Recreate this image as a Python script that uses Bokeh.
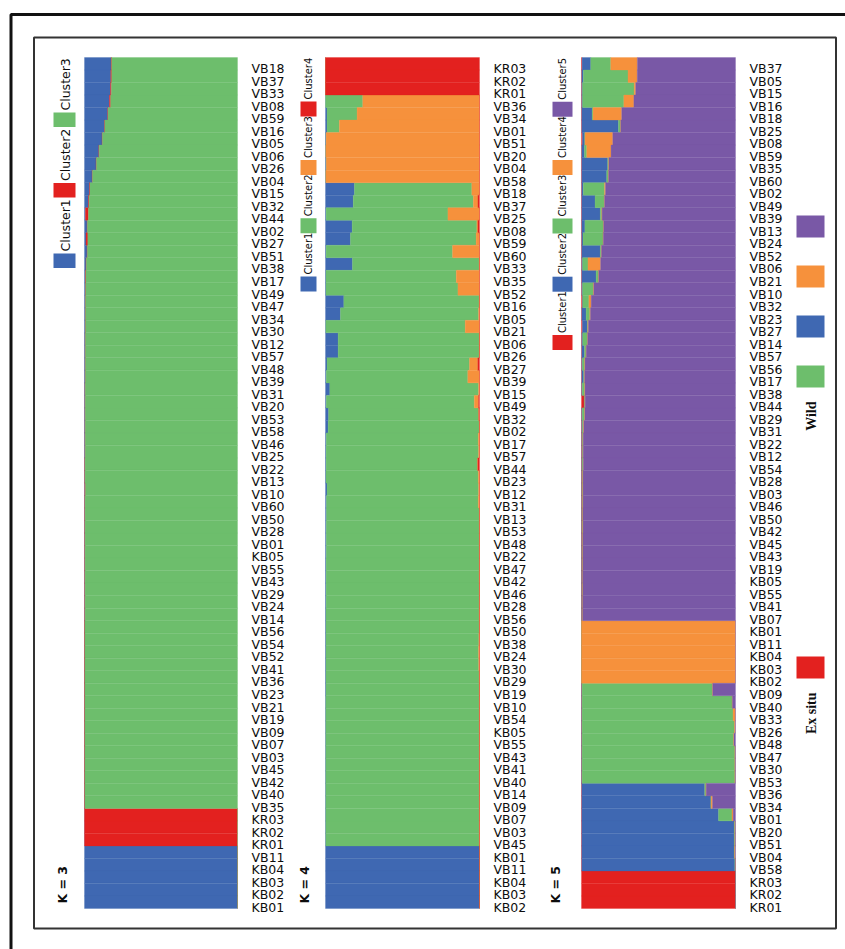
import math
from bokeh.plotting import figure
from bokeh.models import Range1d, BoxAnnotation, Label, ColumnDataSource
from bokeh.core.properties import value
from bokeh.embed import file_html
from bokeh.resources import INLINE

# ---------------- data ----------------
labels_k3 = ["VB18", "VB37", "VB33", "VB08", "VB59", "VB16", "VB05", "VB06", "VB26", "VB04",
             "VB15", "VB32", "VB44", "VB02", "VB27", "VB51", "VB38", "VB17", "VB49", "VB47",
             "VB34", "VB30", "VB12", "VB57", "VB48", "VB39", "VB31", "VB20", "VB53", "VB58",
             "VB46", "VB25", "VB22", "VB13", "VB10", "VB60", "VB50", "VB28", "VB01", "KB05",
             "VB55", "VB43", "VB29", "VB24", "VB14", "VB56", "VB54", "VB52", "VB41", "VB36",
             "VB23", "VB21", "VB19", "VB09", "VB07", "VB03", "VB45", "VB42", "VB40", "VB35",
             "KR03", "KR02", "KR01", "VB11", "KB04", "KB03", "KB02", "KB01"]
k3_cluster1 = [0.174, 0.172, 0.170, 0.163, 0.152, 0.131, 0.115, 0.094, 0.076, 0.050,
               0.033, 0.026, 0.006, 0.017, 0.010, 0.017, 0.010, 0.006, 0.006, 0.005,
               0.005, 0.005, 0.004, 0.004, 0.004, 0.004, 0.003, 0.003, 0.003, 0.003,
               0.003, 0.003, 0.002, 0.002, 0.002, 0.002, 0.002, 0.002, 0.002, 0.002,
               0.002, 0.002, 0.002, 0.002, 0.002, 0.001, 0.001, 0.001, 0.001, 0.001,
               0.001, 0.001, 0.001, 0.001, 0.001, 0.001, 0.001, 0.001, 0.001, 0.001,
               0, 0, 0, 1, 1, 1, 1, 1]
k3_cluster2 = [0.004, 0.006, 0.006, 0.008, 0.002, 0.002, 0.002, 0.002, 0.002, 0.002,
               0.003, 0.004, 0.020, 0.002, 0.012, 0.002, 0.002, 0.003, 0.002, 0.002,
               0.002, 0.002, 0.002, 0.002, 0.002, 0.002, 0.002, 0.002, 0.002, 0.002,
               0.002, 0.002, 0.002, 0.002, 0.004, 0.002, 0.002, 0.002, 0.002, 0.002,
               0.002, 0.002, 0.002, 0.002, 0.002, 0.002, 0.002, 0.002, 0.002, 0.002,
               0.002, 0.002, 0.002, 0.002, 0.002, 0.002, 0.002, 0.002, 0.002, 0.002,
               1, 1, 1, 0, 0, 0, 0, 0]
k3_cluster3 = [0.822, 0.822, 0.824, 0.829, 0.846, 0.867, 0.883, 0.904, 0.922, 0.948,
               0.964, 0.970, 0.974, 0.981, 0.978, 0.981, 0.988, 0.991, 0.992, 0.993,
               0.993, 0.993, 0.994, 0.994, 0.994, 0.994, 0.995, 0.995, 0.995, 0.995,
               0.995, 0.995, 0.996, 0.996, 0.994, 0.996, 0.996, 0.996, 0.996, 0.996,
               0.996, 0.996, 0.996, 0.996, 0.996, 0.997, 0.997, 0.997, 0.997, 0.997,
               0.997, 0.997, 0.997, 0.997, 0.997, 0.997, 0.997, 0.997, 0.997, 0.997,
               0, 0, 0, 0, 0, 0, 0, 0]

labels_k4 = ["KR03", "KR02", "KR01", "VB36", "VB34", "VB01", "VB51", "VB20", "VB04", "VB58",
             "VB18", "VB37", "VB25", "VB08", "VB59", "VB60", "VB33", "VB35", "VB52", "VB16",
             "VB05", "VB21", "VB06", "VB26", "VB27", "VB39", "VB15", "VB49", "VB32", "VB02",
             "VB17", "VB57", "VB44", "VB23", "VB12", "VB31", "VB13", "VB53", "VB48", "VB22",
             "VB47", "VB42", "VB46", "VB28", "VB56", "VB50", "VB38", "VB24", "VB30", "VB29",
             "VB19", "VB10", "VB54", "KB05", "VB55", "VB43", "VB41", "VB40", "VB14", "VB09",
             "VB07", "VB03", "VB45", "KB01", "VB11", "KB04", "KB03", "KB02"]
k4_cluster1 = [0, 0, 0, 0, 0.010, 0.010, 0.004, 0.002, 0.005, 0.002,
               0.188, 0.180, 0.004, 0.173, 0.162, 0.004, 0.175, 0.003, 0.003, 0.119,
               0.097, 0.002, 0.082, 0.082, 0.010, 0.005, 0.028, 0.005, 0.020, 0.017,
               0.005, 0.004, 0.004, 0.003, 0.010, 0.006, 0.006, 0.005, 0.005, 0.005,
               0.004, 0.004, 0.004, 0.004, 0.003, 0.003, 0.003, 0.003, 0.003, 0.003,
               0.003, 0.002, 0.002, 0.002, 0.002, 0.002, 0.002, 0.002, 0.002, 0.002,
               0.002, 0.002, 0.002, 1, 1, 1, 1, 1]
k4_cluster2 = [0, 0, 0, 0.242, 0.195, 0.080, 0, 0, 0, 0,
               0.762, 0.780, 0.791, 0.810, 0.816, 0.821, 0.822, 0.846, 0.857, 0.878,
               0.897, 0.905, 0.916, 0.916, 0.925, 0.919, 0.966, 0.961, 0.974, 0.981,
               0.987, 0.990, 0.983, 0.989, 0.984, 0.986, 0.992, 0.993, 0.993, 0.993,
               0.994, 0.993, 0.994, 0.994, 0.994, 0.995, 0.993, 0.991, 0.992, 0.994,
               0.995, 0.996, 0.996, 0.996, 0.996, 0.996, 0.996, 0.996, 0.996, 0.996,
               0.996, 0.996, 0.996, 0, 0, 0, 0, 0]
k4_cluster3 = [0, 0, 0, 0.758, 0.795, 0.910, 0.996, 0.998, 0.995, 0.998,
               0.050, 0.030, 0.205, 0.007, 0.022, 0.175, 0.003, 0.151, 0.140, 0.003,
               0.006, 0.093, 0.002, 0.002, 0.054, 0.076, 0.006, 0.028, 0.002, 0.002,
               0.008, 0.006, 0.002, 0.008, 0.006, 0.008, 0.002, 0.002, 0.002, 0.002,
               0.002, 0.003, 0.002, 0.002, 0.003, 0.002, 0.004, 0.006, 0.005, 0.003,
               0.002, 0.002, 0.002, 0.002, 0.002, 0.002, 0.002, 0.002, 0.002, 0.002,
               0.002, 0.002, 0.002, 0, 0, 0, 0, 0]
k4_cluster4 = [1, 1, 1, 0, 0, 0, 0, 0, 0, 0,
               0, 0.010, 0, 0.010, 0, 0, 0, 0, 0, 0,
               0, 0, 0, 0, 0.011, 0, 0, 0.006, 0.004, 0,
               0, 0, 0.011, 0, 0, 0, 0, 0, 0, 0,
               0, 0, 0, 0, 0, 0, 0, 0, 0, 0,
               0, 0, 0, 0, 0, 0, 0, 0, 0, 0,
               0, 0, 0, 0, 0, 0, 0, 0]

labels_k5 = ["VB37", "VB05", "VB15", "VB16", "VB18", "VB25", "VB08", "VB59", "VB35", "VB60",
             "VB02", "VB49", "VB39", "VB13", "VB24", "VB52", "VB06", "VB21", "VB10", "VB32",
             "VB23", "VB27", "VB14", "VB57", "VB56", "VB17", "VB38", "VB44", "VB29", "VB31",
             "VB22", "VB12", "VB54", "VB28", "VB03", "VB46", "VB50", "VB42", "VB45", "VB43",
             "VB19", "KB05", "VB55", "VB41", "VB07", "KB01", "VB11", "KB04", "KB03", "KB02",
             "VB09", "VB40", "VB33", "VB26", "VB48", "VB47", "VB30", "VB53", "VB36", "VB34",
             "VB01", "VB20", "VB51", "VB04", "VB58", "KR03", "KR02", "KR01"]
k5_cluster1 = [0.004, 0.002, 0.002, 0.002, 0.002, 0.002, 0.006, 0.002, 0.002, 0.002,
               0.002, 0.002, 0.002, 0.002, 0.002, 0.002, 0.002, 0.002, 0.002, 0.006,
               0.002, 0.006, 0.002, 0.002, 0.002, 0.002, 0.002, 0.017, 0.002, 0.002,
               0.002, 0.002, 0.002, 0.002, 0.002, 0.002, 0.002, 0.002, 0.002, 0.002,
               0.002, 0.002, 0.002, 0.002, 0.002, 0, 0, 0, 0, 0,
               0.002, 0.002, 0.002, 0.002, 0.002, 0.002, 0.002, 0.002, 0.002, 0.002,
               0.002, 0.002, 0.002, 0.002, 0.002, 1, 1, 1]
k5_cluster2 = [0.056, 0.010, 0.005, 0.005, 0.067, 0.238, 0.015, 0.017, 0.168, 0.162,
               0.010, 0.086, 0.120, 0.020, 0.008, 0.120, 0.005, 0.093, 0.005, 0.002,
               0.028, 0.032, 0.006, 0.017, 0.004, 0.012, 0.003, 0.002, 0.003, 0.004,
               0.003, 0.004, 0.003, 0.003, 0.002, 0.003, 0.002, 0.002, 0.003, 0.002,
               0.002, 0.002, 0.002, 0.002, 0.002, 0, 0, 0, 0, 0,
               0.002, 0.002, 0.002, 0.002, 0.002, 0.002, 0.002, 0.002, 0.798, 0.838,
               0.888, 0.990, 0.990, 0.990, 0.994, 0, 0, 0]
k5_cluster3 = [0.130, 0.290, 0.335, 0.268, 0.006, 0.013, 0.002, 0.015, 0.006, 0.010,
               0.138, 0.060, 0.010, 0.120, 0.130, 0.006, 0.035, 0.015, 0.070, 0.040,
               0.024, 0.003, 0.030, 0.010, 0.015, 0.005, 0.016, 0.003, 0.015, 0.006,
               0.004, 0.003, 0.005, 0.003, 0.004, 0.003, 0.003, 0.004, 0.002, 0.003,
               0.003, 0.002, 0.003, 0.002, 0.002, 0, 0, 0, 0, 0,
               0.846, 0.974, 0.980, 0.989, 0.984, 0.992, 0.992, 0.992, 0.008, 0.002,
               0.087, 0.004, 0.004, 0.002, 0.002, 0, 0, 0]
k5_cluster4 = [0.173, 0.060, 0.010, 0.065, 0.186, 0.002, 0.180, 0.158, 0.002, 0.002,
               0.006, 0.002, 0.002, 0.002, 0.002, 0.002, 0.082, 0.002, 0.003, 0.015,
               0.004, 0.004, 0.002, 0.002, 0.002, 0.002, 0.002, 0.002, 0.002, 0.003,
               0.002, 0.002, 0.002, 0.002, 0.002, 0.002, 0.002, 0.002, 0.002, 0.002,
               0.002, 0.002, 0.002, 0.002, 0.002, 1, 1, 1, 1, 1,
               0.002, 0.002, 0.015, 0.005, 0.002, 0.002, 0.002, 0.002, 0.002, 0.009,
               0.008, 0.002, 0.002, 0.004, 0.002, 0, 0, 0]
k5_cluster5 = [0.637, 0.638, 0.648, 0.660, 0.739, 0.745, 0.797, 0.808, 0.822, 0.824,
               0.844, 0.850, 0.866, 0.856, 0.858, 0.870, 0.876, 0.888, 0.920, 0.937,
               0.942, 0.955, 0.960, 0.969, 0.977, 0.979, 0.977, 0.976, 0.978, 0.985,
               0.989, 0.989, 0.988, 0.990, 0.990, 0.990, 0.991, 0.990, 0.991, 0.991,
               0.991, 0.992, 0.991, 0.992, 0.992, 0, 0, 0, 0, 0,
               0.148, 0.020, 0.001, 0.002, 0.010, 0.002, 0.002, 0.002, 0.190, 0.149,
               0.015, 0.002, 0.002, 0.002, 0.000, 0, 0, 0]

legend_k3 = ["Cluster1", "Cluster2", "Cluster3"]
legend_k4 = ["Cluster1", "Cluster2", "Cluster3", "Cluster4"]
legend_k5 = ["Cluster1", "Cluster2", "Cluster3", "Cluster4", "Cluster5"]
group_legend = ["Wild", "Ex situ"]

# ---------------- styles ----------------
BLUE, RED, GREEN, ORANGE, PURPLE = "#3f68b2", "#e3211f", "#6dbe6c", "#f6913c", "#7958a6"
TXT = "#0d0d0d"

W, H = 845, 949
PAGE = 0


def P(v):
    return v - PAGE


N = len(labels_k3)
ROW_TOP, ROW_BOT = 57, 908
RH = (ROW_BOT - ROW_TOP) / N


def panel_range(L, R):
    l, r = P(L), P(R)
    w = r - l
    return Range1d(-l / w, (W - l) / w)


p = figure(width=W, height=H, x_range=Range1d(0, W), y_range=Range1d(H, 0),
           output_backend="svg", toolbar_location=None, min_border=0,
           x_axis_location=None, y_axis_location=None,
           outline_line_color=None, background_fill_color="white",
           border_fill_color="white")
p.grid.visible = False
p.extra_y_ranges = {"rows": Range1d((H - P(ROW_TOP)) / RH, -P(ROW_TOP) / RH)}
p.extra_x_ranges = {"k3": panel_range(84, 237),
                    "k4": panel_range(325, 479),
                    "k5": panel_range(581, 735)}

# frames
p.add_layout(BoxAnnotation(left=P(10.5), top=P(14), right=W + 30, bottom=H + 30,
                           fill_alpha=0, line_color="#111111", line_alpha=1, line_width=3))
p.add_layout(BoxAnnotation(left=P(33.5), top=P(37), right=P(835.5), bottom=P(928),
                           fill_alpha=0, line_color="#333333", line_alpha=1, line_width=2))

panels = [
    ("k3", labels_k3, [k3_cluster1, k3_cluster2, k3_cluster3], [BLUE, RED, GREEN],
     legend_k3, dict(sx0=53, sx1=75, first_top=253, sh=14.5, pitch=70.5, tx=64.5, fs="12.5px"),
     "K = 3", (62, 903)),
    ("k4", labels_k4, [k4_cluster1, k4_cluster2, k4_cluster3, k4_cluster4],
     [BLUE, GREEN, ORANGE, RED],
     legend_k4, dict(sx0=300, sx1=316, first_top=276, sh=15, pitch=58.3, tx=307.5, fs="10px"),
     "K = 4", (304, 903)),
    ("k5", labels_k5, [k5_cluster1, k5_cluster2, k5_cluster3, k5_cluster4, k5_cluster5],
     [RED, BLUE, GREEN, ORANGE, PURPLE],
     legend_k5, dict(sx0=552, sx1=572, first_top=334.5, sh=15, pitch=58.3, tx=562, fs="10px"),
     "K = 5", (555, 903)),
]

for key, names, series, cols, leg, lg, ktext, kpos in panels:
    data = {"y": [i + 0.5 for i in range(len(names))],
            "ly": [i + 0.9 for i in range(len(names))],
            "name": names}
    keys = []
    for j, s in enumerate(series):
        data[f"c{j}"] = s
        keys.append(f"c{j}")
    src = ColumnDataSource(data)
    p.hbar_stack(keys, y="y", height=1.0, color=cols, source=src,
                 x_range_name=key, y_range_name="rows", line_width=0.3)
    p.text(x=1.0, y="ly", text="name", source=src, x_range_name=key, y_range_name="rows",
           x_offset=14, text_font=value("DejaVu Sans"), text_font_size=value("12.5px"),
           text_baseline="middle", text_align="left", text_color=TXT)
    # rotated legend (items stacked upward)
    for j, (name, c) in enumerate(zip(leg, cols)):
        top = lg["first_top"] - j * lg["pitch"]
        p.add_layout(BoxAnnotation(left=P(lg["sx0"]), right=P(lg["sx1"]),
                                   top=P(top), bottom=P(top + lg["sh"]),
                                   fill_color=c, fill_alpha=1, line_color=None))
        p.add_layout(Label(x=P(lg["tx"]), y=P(top - 2), text=name, angle=math.pi / 2,
                           text_align="left", text_baseline="middle",
                           text_font="DejaVu Sans", text_font_size=lg["fs"],
                           text_color=TXT))
    p.add_layout(Label(x=P(kpos[0]), y=P(kpos[1]), text=ktext, angle=math.pi / 2,
                       text_align="left", text_baseline="middle",
                       text_font="DejaVu Sans", text_font_style="bold",
                       text_font_size="12.5px", text_color=TXT))

# right-hand group legend
wild_cols = [PURPLE, ORANGE, BLUE, GREEN]
for j, c in enumerate(wild_cols):
    top = 215 + j * 50
    p.add_layout(BoxAnnotation(left=P(796), right=P(824), top=P(top), bottom=P(top + 22),
                               fill_color=c, fill_alpha=1, line_color=None))
p.add_layout(BoxAnnotation(left=P(796), right=P(824), top=P(656), bottom=P(678),
                           fill_color=RED, fill_alpha=1, line_color=None))
p.add_layout(Label(x=P(811), y=P(401), text=group_legend[0], angle=math.pi / 2,
                   text_align="right", text_baseline="middle",
                   text_font="Liberation Serif", text_font_style="bold",
                   text_font_size="14px", text_color=TXT))
p.add_layout(Label(x=P(811), y=P(692), text=group_legend[1], angle=math.pi / 2,
                   text_align="right", text_baseline="middle",
                   text_font="Liberation Serif", text_font_style="bold",
                   text_font_size="14px", text_color=TXT))

open("out.html", "w").write(file_html(p, INLINE))
